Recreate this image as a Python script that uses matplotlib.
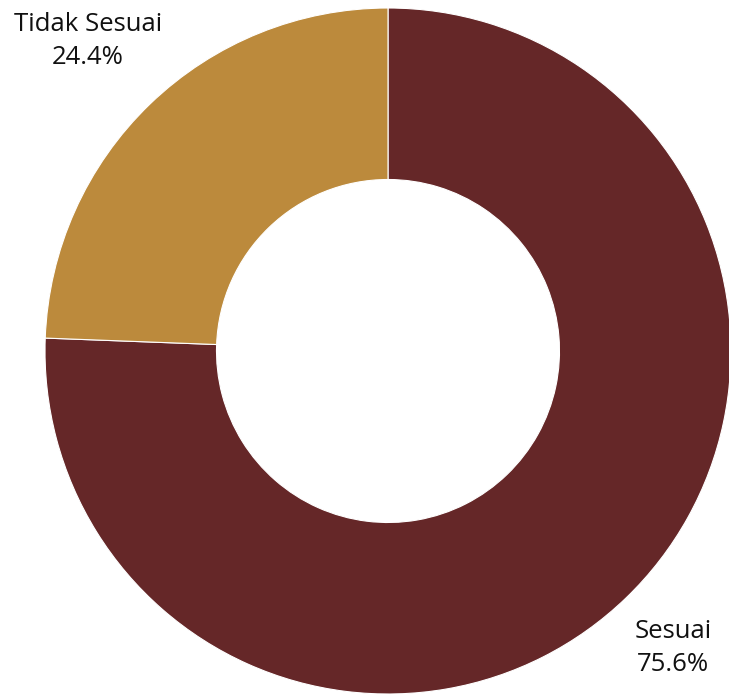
import matplotlib.pyplot as plt

labels = ["Sesuai", "Tidak Sesuai"]
values = [75.6, 24.4]
colors = ["#652728", "#BC8A3C"]

W, H = 729, 695
cx, cy, r = 388, 351, 343

fig = plt.figure(figsize=(W / 100, H / 100), dpi=100)
ax = fig.add_axes([0, 0, 1, 1])
ax.pie(values, colors=colors, startangle=90, counterclock=False,
       wedgeprops=dict(width=0.5, edgecolor="white", linewidth=0.8))
ax.set_xlim(-cx / r, (W - cx) / r)
ax.set_ylim(-(H - cy) / r, cy / r)
ax.set_aspect("auto")
ax.axis("off")

label_pos = {"Sesuai": (673, 648), "Tidak Sesuai": (88, 41)}
for lab, val in zip(labels, values):
    px, py = label_pos[lab]
    ax.text((px - cx) / r, (cy - py) / r, f"{lab}\n{val:.1f}%", ha="center", va="center",
            fontsize=18.5, family="Open Sans", color="#111111", linespacing=1.45)

fig.savefig("out.png", dpi=100)
